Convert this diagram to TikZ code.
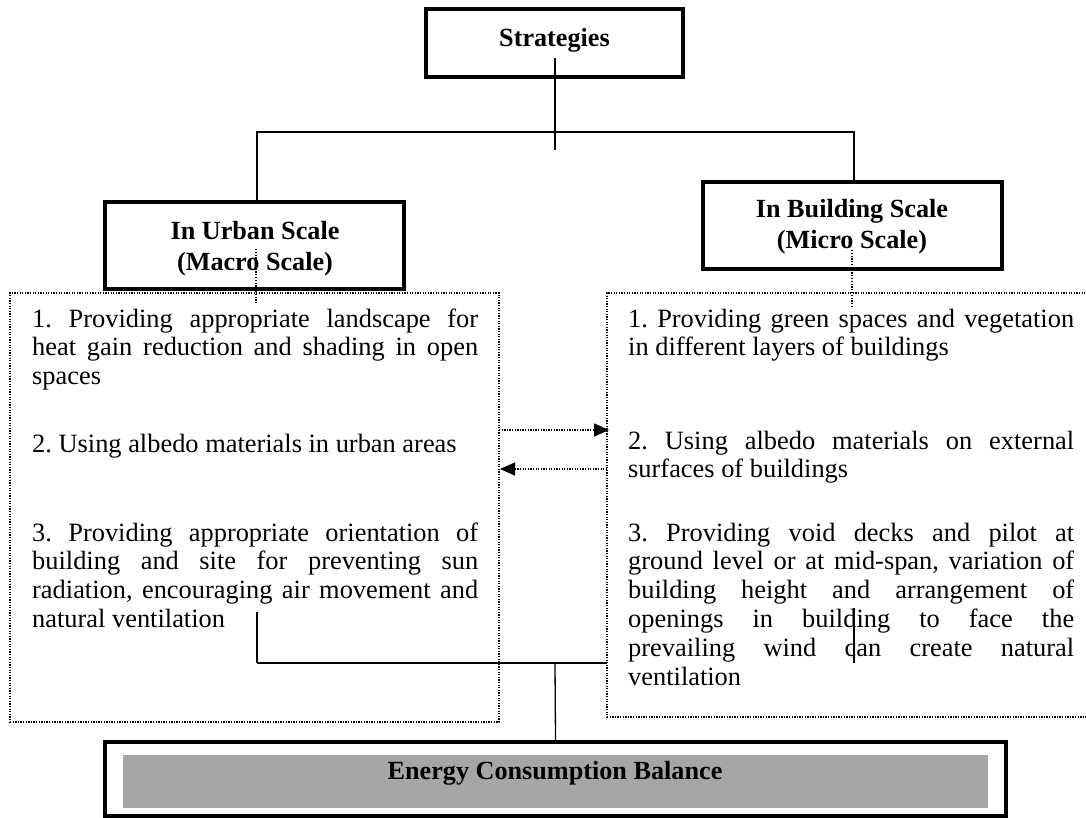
\documentclass[tikz,border=0pt]{standalone}
\usepackage{fontspec}
\setmainfont{Liberation Serif}
\usetikzlibrary{arrows.meta}
\definecolor{energygray}{HTML}{A6A6A6}
\newcommand{\jline}[1]{\makebox[446pt][s]{#1}\\}
\frenchspacing
\begin{document}
\begin{tikzpicture}[x=1pt,y=-1pt,
  thickbox/.style={draw, line width=3.5pt, inner sep=0pt},
  headtext/.style={font=\fontsize{26.2pt}{28.8pt}\selectfont\bfseries, inner sep=0pt, anchor=base},
  bodytext/.style={font=\fontsize{26.4pt}{28.8pt}\selectfont, inner sep=0pt, anchor=base west},
  dotbox/.style={draw, line width=1.3pt, dash pattern=on 1.3pt off 1.3pt, inner sep=0pt},
  dotline/.style={line width=1.2pt, dash pattern=on 1.2pt off 1.6pt},
  conn/.style={line width=1.3pt},
  darrow/.style={line width=1.3pt, dash pattern=on 1.3pt off 1.3pt, -{Triangle[length=15pt,width=13pt]}}
]
\clip (0,0) rectangle (1086,818);
\fill[white] (0,0) rectangle (1086,818);

% Strategies
\node[thickbox, minimum width=257pt, minimum height=68pt] (S) at (554.5,43) {};
\node[headtext] (St) at (554.5,47) {Strategies};

% Scale boxes
\node[thickbox, minimum width=299pt, minimum height=87pt] (U) at (254.5,245.5) {};
\node[headtext] (U1) at (255,240) {In Urban Scale};
\node[headtext] (U2) at (255,270) {(Macro Scale)};
\node[thickbox, minimum width=299pt, minimum height=87pt] (B) at (852.5,225.5) {};
\node[headtext] (B1) at (852,218) {In Building Scale};
\node[headtext] (B2) at (852,248) {(Micro Scale)};

% top connectors
\coordinate (sTop) at (555,58);
\coordinate (sBot) at (555,150);
\coordinate (jl) at (257,132);
\coordinate (jr) at (854,132);
\draw[conn] (sTop) -- (sBot);
\draw[conn] (U.north -| jl) -- (jl) -- (jr) -- (B.north -| jr);

% left dotted box
\node[dotbox, minimum width=489pt, minimum height=429pt] (L) at (254.5,507.5) {};

% bottom connector (left part)
\coordinate (bl) at (257,612);
\coordinate (blc) at (257,663);
\coordinate (bm) at (555,663);
\coordinate (br) at (607,663);
\draw[line width=1.3pt] (bl) -- (blc);
\draw[line width=2pt] (blc) -- (br);

% right dotted box
\node[dotbox, fill=white, minimum width=503pt, minimum height=424pt] (R) at (858.5,505) {};

% dotted links from scale boxes
\coordinate (ud1) at (256,249);
\coordinate (ud2) at (256,303);
\coordinate (bd1) at (852,250);
\coordinate (bd2) at (852,307);
\draw[dotline] (ud1) -- (ud2);
\draw[dotline] (bd1) -- (bd2);

% arrows between boxes
\coordinate (a1s) at (499,430);
\coordinate (a1e) at (609,430);
\coordinate (a2s) at (607,469);
\coordinate (a2e) at (500,469);
\draw[darrow] (a1s) -- (a1e);
\draw[darrow] (a2s) -- (a2e);

% right vertical over the right box
\coordinate (bv1) at (854,608);
\coordinate (bv2) at (854,663);
\draw[conn] (bv1) -- (bv2);

% Left texts
\node[bodytext] (L1) at (32,327) {\parbox[t]{446pt}{%
\jline{1. Providing appropriate landscape for}
\jline{heat gain reduction and shading in open}
spaces}};
\node[bodytext] (L2) at (32,452) {\parbox[t]{446pt}{2. Using albedo materials in urban areas}};
\node[bodytext] (L3) at (32,541) {\parbox[t]{446pt}{%
\jline{3. Providing appropriate orientation of}
\jline{building and site for preventing sun}
\jline{radiation, encouraging air movement and}
natural ventilation}};

% Right texts
\node[bodytext] (R1) at (628,327) {\parbox[t]{446pt}{%
\jline{1. Providing green spaces and vegetation}
in different layers of buildings}};
\node[bodytext] (R2) at (628,449) {\parbox[t]{446pt}{%
\jline{2. Using albedo materials on external}
surfaces of buildings}};
\node[bodytext] (R3) at (628,541) {\parbox[t]{446pt}{%
\jline{3. Providing void decks and pilot at}
\jline{ground level or at mid-span, variation of}
\jline{building height and arrangement of}
\jline{openings in building to face the}
\jline{prevailing wind can create natural}
ventilation}};

% Energy box
\node[draw, line width=4pt, inner sep=0pt, minimum width=901pt, minimum height=74pt] (E) at (555.5,779) {};
\node[fill=energygray, inner sep=0pt, minimum width=865pt, minimum height=53pt] (Eg) at (555.5,781.5) {};
\node[headtext] (Et) at (555,779) {Energy Consumption Balance};
\draw[conn] (bm) -- (E.north);
\end{tikzpicture}
\end{document}
